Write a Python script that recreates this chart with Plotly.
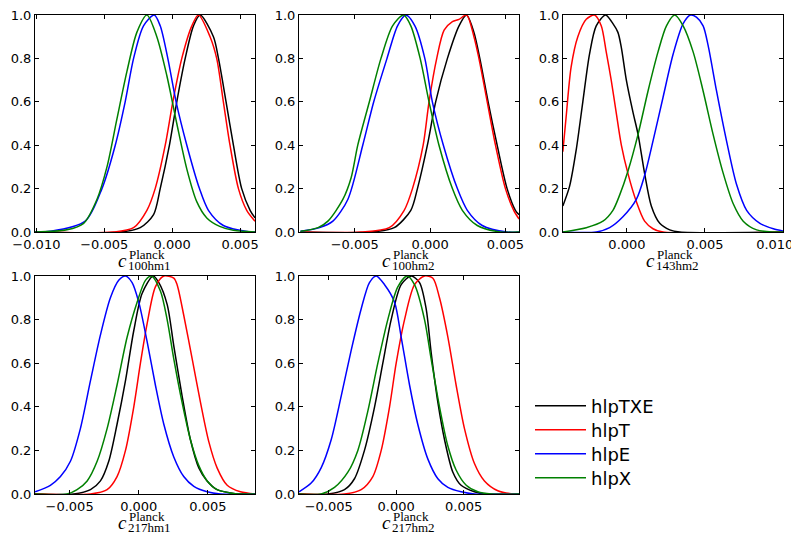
import plotly.graph_objects as go

series_names = ["hlpTXE", "hlpT", "hlpE", "hlpX"]
series_colors = ["#000000", "#ff0000", "#0000ff", "#008000"]
panel_subscripts = ["100hm1", "100hm2", "143hm2", "217hm1", "217hm2"]

# ---------------- Panel 1 : c_100hm1 ----------------
p1_txe_x = [-0.0101, -0.00382, -0.00235, -0.00137, -0.00088, -0.00020, 0.00034, 0.00096, 0.00157, 0.00206, 0.00304, 0.00341, 0.00397, 0.00451, 0.00512, 0.00574, 0.0061]
p1_txe_y = [0, 0, 0.02, 0.08, 0.2, 0.4, 0.6, 0.8, 0.95, 1.0, 0.9, 0.8, 0.6, 0.4, 0.2, 0.1, 0.065]
p1_t_x = [-0.0101, -0.00431, -0.00284, -0.00186, -0.00125, -0.00051, 0.00005, 0.00071, 0.00145, 0.00194, 0.00279, 0.00328, 0.00377, 0.00426, 0.00488, 0.00549, 0.0061]
p1_t_y = [0, 0, 0.02, 0.1, 0.2, 0.4, 0.6, 0.8, 0.95, 1.0, 0.9, 0.8, 0.6, 0.4, 0.2, 0.1, 0.05]
p1_e_x = [-0.0101, -0.00897, -0.00640, -0.00517, -0.00419, -0.00346, -0.00284, -0.00211, -0.00132, -0.00088, -0.00032, 0.00029, 0.00108, 0.00201, 0.00267, 0.00377, 0.00574, 0.0061]
p1_e_y = [0, 0.003, 0.05, 0.2, 0.4, 0.6, 0.8, 0.95, 1.0, 0.95, 0.8, 0.6, 0.4, 0.2, 0.1, 0.03, 0, 0]
p1_x_x = [-0.0101, -0.00775, -0.00652, -0.00554, -0.00480, -0.00407, -0.00333, -0.00260, -0.00186, -0.00113, -0.00039, 0.00034, 0.00108, 0.00181, 0.00255, 0.00350, 0.00450, 0.0061]
p1_x_y = [0, 0.01, 0.04, 0.15, 0.30, 0.52, 0.74, 0.92, 1.0, 0.90, 0.72, 0.50, 0.29, 0.14, 0.065, 0.026, 0.008, 0]

# ---------------- Panel 2 : c_100hm2 ----------------
p2_txe_x = [-0.0086, -0.00392, -0.00238, -0.00128, -0.00084, -0.00018, 0.00037, 0.00115, 0.00192, 0.00242, 0.00291, 0.00330, 0.00385, 0.00445, 0.00511, 0.00566, 0.0059]
p2_txe_y = [0, 0, 0.02, 0.1, 0.2, 0.4, 0.6, 0.8, 0.95, 1.0, 0.92, 0.8, 0.6, 0.4, 0.2, 0.1, 0.08]
p2_t_x = [-0.0086, -0.00458, -0.00271, -0.00172, -0.00117, -0.00046, -0.00007, 0.00044, 0.00093, 0.00148, 0.00192, 0.00242, 0.00291, 0.00324, 0.00379, 0.00434, 0.00500, 0.00555, 0.0059]
p2_t_y = [0, 0, 0.02, 0.1, 0.2, 0.4, 0.6, 0.8, 0.93, 0.97, 0.98, 1.0, 0.9, 0.8, 0.6, 0.4, 0.2, 0.1, 0.06]
p2_e_x = [-0.0086, -0.00733, -0.00645, -0.00546, -0.00447, -0.00374, -0.00286, -0.00216, -0.00161, -0.00101, -0.00035, 0.00015, 0.00088, 0.00181, 0.00247, 0.00346, 0.00511, 0.0059]
p2_e_y = [0.003, 0.02, 0.05, 0.15, 0.4, 0.6, 0.8, 0.95, 1.0, 0.95, 0.8, 0.6, 0.4, 0.2, 0.1, 0.03, 0, 0]
p2_x_x = [-0.0086, -0.00744, -0.00678, -0.00579, -0.00524, -0.00480, -0.00403, -0.00326, -0.00249, -0.00176, -0.00128, -0.00066, -0.00007, 0.00059, 0.00148, 0.00214, 0.00313, 0.00467, 0.0059]
p2_x_y = [0.003, 0.02, 0.05, 0.15, 0.25, 0.4, 0.6, 0.8, 0.95, 1.0, 0.95, 0.8, 0.6, 0.4, 0.2, 0.1, 0.03, 0, 0]

# ---------------- Panel 3 : c_143hm2 ----------------
p3_txe_x = [-0.00411, -0.00368, -0.00325, -0.00283, -0.00240, -0.00197, -0.00137, -0.00090, -0.00058, -0.00036, -0.00004, 0.00039, 0.00071, 0.00113, 0.00156, 0.00210, 0.00274, 0.00338, 0.0100]
p3_txe_y = [0.12, 0.21, 0.38, 0.6, 0.82, 0.95, 1.0, 0.96, 0.92, 0.85, 0.7, 0.55, 0.45, 0.27, 0.12, 0.04, 0.01, 0, 0]
p3_t_x = [-0.00411, -0.00390, -0.00358, -0.00315, -0.00261, -0.00208, -0.00165, -0.00133, -0.00101, -0.00069, -0.00036, 0.00006, 0.00060, 0.00113, 0.00167, 0.00231, 0.0100]
p3_t_y = [0.37, 0.53, 0.76, 0.9, 0.98, 1.0, 0.95, 0.83, 0.7, 0.55, 0.4, 0.27, 0.14, 0.05, 0.015, 0, 0]
p3_e_x = [-0.00411, -0.00197, -0.00111, -0.00026, 0.00060, 0.00113, 0.00167, 0.00231, 0.00296, 0.00360, 0.00407, 0.00445, 0.00488, 0.00520, 0.00574, 0.00638, 0.00702, 0.00767, 0.00852, 0.00938, 0.0100]
p3_e_y = [0, 0, 0.02, 0.07, 0.15, 0.26, 0.42, 0.62, 0.82, 0.96, 1.0, 0.99, 0.95, 0.86, 0.65, 0.42, 0.22, 0.1, 0.04, 0.015, 0.005]
p3_x_x = [-0.00411, -0.00261, -0.00154, -0.00090, -0.00047, 0.00006, 0.00071, 0.00135, 0.00199, 0.00253, 0.00306, 0.00360, 0.00424, 0.00488, 0.00552, 0.00617, 0.00681, 0.00745, 0.00831, 0.00938, 0.0100]
p3_x_y = [0, 0.02, 0.05, 0.1, 0.17, 0.28, 0.45, 0.65, 0.83, 0.95, 1.0, 0.95, 0.83, 0.65, 0.45, 0.27, 0.13, 0.05, 0.01, 0, 0]

# ---------------- Panel 4 : c_217hm1 ----------------
p4_txe_x = [-0.0075, -0.00470, -0.00349, -0.00277, -0.00217, -0.00157, -0.00096, -0.00036, 0.00024, 0.00104, 0.00145, 0.00205, 0.00253, 0.00313, 0.00373, 0.00434, 0.00494, 0.00566, 0.00663, 0.00735, 0.0084]
p4_txe_y = [0, 0, 0.02, 0.06, 0.15, 0.32, 0.52, 0.75, 0.92, 1.0, 0.97, 0.87, 0.68, 0.45, 0.25, 0.12, 0.06, 0.02, 0.005, 0, 0]
p4_t_x = [-0.0075, -0.00349, -0.00229, -0.00157, -0.00096, -0.00036, 0.00012, 0.00060, 0.00120, 0.00181, 0.00253, 0.00277, 0.00325, 0.00386, 0.00446, 0.00506, 0.00566, 0.00639, 0.00735, 0.0084]
p4_t_y = [0, 0, 0.02, 0.08, 0.2, 0.4, 0.6, 0.78, 0.95, 1.0, 0.99, 0.96, 0.82, 0.62, 0.42, 0.24, 0.12, 0.04, 0.01, 0]
p4_e_x = [-0.0075, -0.00639, -0.00566, -0.00494, -0.00422, -0.00349, -0.00277, -0.00205, -0.00145, -0.00096, -0.00048, 0.0, 0.00060, 0.00120, 0.00181, 0.00253, 0.00325, 0.00398, 0.00494, 0.00590, 0.0084]
p4_e_y = [0.01, 0.04, 0.08, 0.15, 0.3, 0.52, 0.73, 0.9, 0.98, 1.0, 0.97, 0.88, 0.7, 0.5, 0.32, 0.17, 0.08, 0.035, 0.01, 0, 0]
p4_x_x = [-0.0075, -0.00518, -0.00446, -0.00373, -0.00301, -0.00229, -0.00157, -0.00084, -0.00012, 0.00048, 0.00092, 0.00157, 0.00205, 0.00253, 0.00313, 0.00373, 0.00434, 0.00494, 0.00566, 0.00663, 0.00735, 0.0084]
p4_x_y = [0, 0, 0.02, 0.06, 0.15, 0.3, 0.5, 0.72, 0.88, 0.98, 1.0, 0.93, 0.8, 0.62, 0.42, 0.25, 0.13, 0.06, 0.02, 0.005, 0, 0]

# ---------------- Panel 5 : c_217hm2 ----------------
p5_txe_x = [-0.0072, -0.00506, -0.00383, -0.00309, -0.00235, -0.00160, -0.00099, -0.00037, 0.00037, 0.00111, 0.00173, 0.00222, 0.00259, 0.00309, 0.00358, 0.00420, 0.00481, 0.00580, 0.00654, 0.0091]
p5_txe_y = [0, 0, 0.02, 0.07, 0.2, 0.4, 0.6, 0.8, 0.96, 1.0, 0.97, 0.85, 0.65, 0.42, 0.25, 0.1, 0.04, 0.01, 0, 0]
p5_t_x = [-0.0072, -0.00383, -0.00259, -0.00173, -0.00111, -0.00049, 0.0, 0.00062, 0.00136, 0.00210, 0.00272, 0.00321, 0.00383, 0.00444, 0.00506, 0.00580, 0.00654, 0.00753, 0.00877, 0.0091]
p5_t_y = [0, 0, 0.02, 0.08, 0.2, 0.4, 0.6, 0.8, 0.96, 1.0, 0.99, 0.9, 0.72, 0.5, 0.3, 0.14, 0.06, 0.015, 0, 0]
p5_e_x = [-0.0072, -0.00630, -0.00556, -0.00481, -0.00407, -0.00333, -0.00259, -0.00198, -0.00148, -0.00086, -0.00012, 0.00037, 0.00099, 0.00160, 0.00235, 0.00309, 0.00383, 0.00481, 0.00580, 0.0091]
p5_e_y = [0.01, 0.05, 0.12, 0.25, 0.45, 0.66, 0.85, 0.97, 1.0, 0.96, 0.88, 0.72, 0.5, 0.32, 0.16, 0.07, 0.03, 0.01, 0, 0]
p5_x_x = [-0.0072, -0.00556, -0.00457, -0.00358, -0.00284, -0.00210, -0.00136, -0.00062, 0.00012, 0.00081, 0.00136, 0.00210, 0.00259, 0.00321, 0.00383, 0.00444, 0.00519, 0.00605, 0.00704, 0.0091]
p5_x_y = [0, 0, 0.03, 0.1, 0.2, 0.38, 0.6, 0.8, 0.95, 1.0, 0.96, 0.8, 0.62, 0.4, 0.22, 0.11, 0.04, 0.01, 0, 0]

panel_x_ranges = [[-0.0101, 0.0061], [-0.0087, 0.0059], [-0.0041, 0.0100], [-0.0075, 0.0084], [-0.0072, 0.0091]]
panel_x_ticks = [[-0.010, -0.005, 0.0, 0.005], [-0.005, 0.0, 0.005], [0.0, 0.005, 0.010],
                 [-0.005, 0.0, 0.005], [-0.005, 0.0, 0.005]]
y_ticks = [0.0, 0.2, 0.4, 0.6, 0.8, 1.0]

panels = [
    [(p1_txe_x, p1_txe_y), (p1_t_x, p1_t_y), (p1_e_x, p1_e_y), (p1_x_x, p1_x_y)],
    [(p2_txe_x, p2_txe_y), (p2_t_x, p2_t_y), (p2_e_x, p2_e_y), (p2_x_x, p2_x_y)],
    [(p3_txe_x, p3_txe_y), (p3_t_x, p3_t_y), (p3_e_x, p3_e_y), (p3_x_x, p3_x_y)],
    [(p4_txe_x, p4_txe_y), (p4_t_x, p4_t_y), (p4_e_x, p4_e_y), (p4_x_x, p4_x_y)],
    [(p5_txe_x, p5_txe_y), (p5_t_x, p5_t_y), (p5_e_x, p5_e_y), (p5_x_x, p5_x_y)],
]

# The page body has an 8px margin, so the figure starts at (8, 8) in the window.
OFF = 8
WIN_W, WIN_H = 799, 534
W, H = WIN_W - OFF, WIN_H - OFF


def px(xw):
    return (xw - OFF) / W


def py(yw):
    return (WIN_H - yw) / H


def fmt_tick(v):
    s = "{:.3f}".format(abs(v))
    return ("\u2212" + s) if v < 0 else s


# window pixel boxes of each panel (left, right, top, bottom)
boxes = [(35, 255, 15, 232), (299, 519, 15, 232), (563, 783, 15, 232),
         (35, 255, 276, 494), (299, 519, 276, 494)]
legend_keys = ["legend", "legend2", "legend3", "legend4"]
legend_rows = [406, 430, 454, 478]  # window y-centre of each legend entry

fig = go.Figure()
layout = dict(
    width=W, height=H, margin=dict(l=0, r=0, t=0, b=0, pad=0, autoexpand=False),
    paper_bgcolor="white", plot_bgcolor="white",
    font=dict(family="DejaVu Sans", size=13, color="black"),
    showlegend=True,
)
for k, yc in zip(legend_keys, legend_rows):
    layout[k] = dict(x=px(530), y=py(yc), xanchor="left", yanchor="middle",
                     font=dict(size=18, family="DejaVu Sans", color="black"),
                     bgcolor="rgba(0,0,0,0)", itemwidth=51)

annotations = []
for i, (curves, box) in enumerate(zip(panels, boxes)):
    n = "" if i == 0 else str(i + 1)
    l, r, t, b = box
    ticktext = [fmt_tick(v) for v in panel_x_ticks[i]]
    if i == 2:
        # last label sits at the window edge; pad it so it stays fully visible
        ticktext[-1] = ticktext[-1] + "\u2007\u2007"
    xa = dict(domain=[px(l), px(r)], range=panel_x_ranges[i], anchor="y" + n,
              tickvals=panel_x_ticks[i], ticktext=ticktext, ticks="inside", ticklen=4,
              mirror="ticks", showline=True, linecolor="black", linewidth=1,
              tickcolor="black", showgrid=False, zeroline=False, automargin=False,
              ticklabeloverflow="allow", tickfont=dict(size=13))
    ya = dict(domain=[py(b), py(t)], range=[0, 1], anchor="x" + n,
              tickvals=y_ticks, tickformat=".1f", ticks="inside", ticklen=4,
              mirror="ticks", showline=True, linecolor="black", linewidth=1,
              tickcolor="black", showgrid=False, zeroline=False, automargin=False,
              ticklabeloverflow="allow", tickfont=dict(size=13))
    layout["xaxis" + n] = xa
    layout["yaxis" + n] = ya
    for j, (xs, ys) in enumerate(curves):
        fig.add_trace(go.Scatter(
            x=xs, y=ys, mode="lines", name=series_names[j],
            line=dict(color=series_colors[j], width=1.5, shape="spline", smoothing=0.8),
            xaxis="x" + n, yaxis="y" + n, showlegend=(i == 0), legend=legend_keys[j]))
    cx = (l + r) / 2
    annotations.append(dict(text="<i>c</i>", x=px(cx - 23), y=py(b + 28),
                            xref="paper", yref="paper", showarrow=False, xanchor="center",
                            yanchor="middle", font=dict(family="Liberation Serif", size=19)))
    annotations.append(dict(text="Planck", x=px(cx - 18), y=py(b + 22),
                            xref="paper", yref="paper", showarrow=False, xanchor="left",
                            yanchor="middle", font=dict(family="Liberation Serif", size=13)))
    annotations.append(dict(text=panel_subscripts[i], x=px(cx - 19), y=py(b + 33),
                            xref="paper", yref="paper", showarrow=False, xanchor="left",
                            yanchor="middle", font=dict(family="Liberation Serif", size=13)))
layout["annotations"] = annotations
fig.update_layout(**layout)
fig.write_html("out.html")
